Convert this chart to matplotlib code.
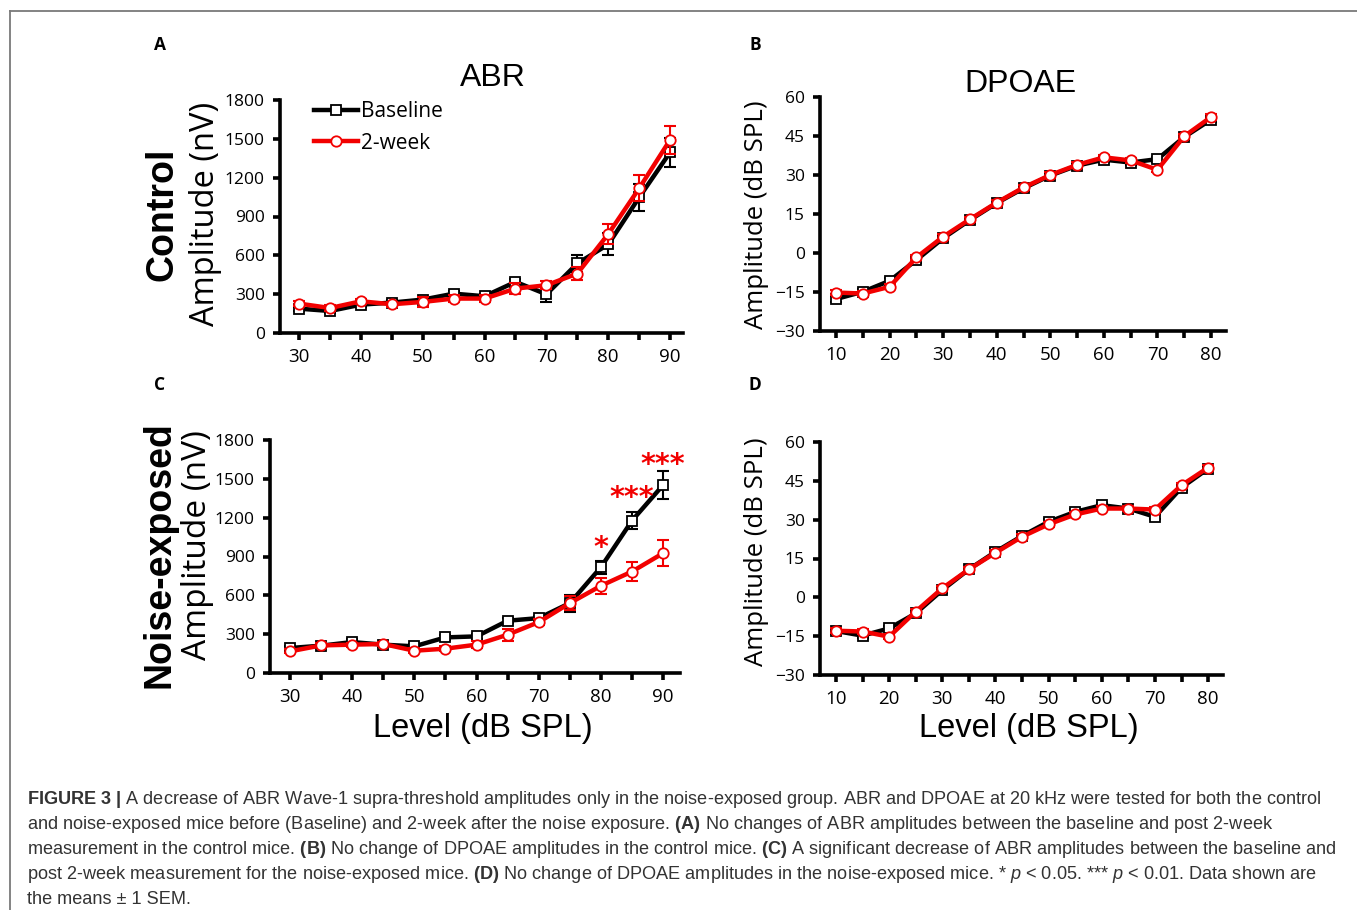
import numpy as np
import matplotlib.pyplot as plt
from matplotlib.lines import Line2D

plt.rcParams['mathtext.fontset'] = 'custom'
plt.rcParams['mathtext.rm'] = 'Liberation Sans'
plt.rcParams['mathtext.it'] = 'Liberation Sans:italic'
plt.rcParams['mathtext.bf'] = 'Liberation Sans:bold'

# ---- data ----
abr_levels = [30, 35, 40, 45, 50, 55, 60, 65, 70, 75, 80, 85, 90]
dp_levels = [10, 15, 20, 25, 30, 35, 40, 45, 50, 55, 60, 65, 70, 75, 80]
abr_ticklabels = ['30', '', '40', '', '50', '', '60', '', '70', '', '80', '', '90']
dp_ticklabels = ['10', '', '20', '', '30', '', '40', '', '50', '', '60', '', '70', '', '80']
abr_yticks = [0, 300, 600, 900, 1200, 1500, 1800]
dp_yticks = [-30, -15, 0, 15, 30, 45, 60]

# A: control ABR (nV)
ctrl_abr_base = [188, 170, 219, 235, 258, 304, 284, 395, 299, 537, 684, 1047, 1395]
ctrl_abr_base_err = [15, 15, 20, 20, 20, 20, 20, 25, 60, 65, 85, 105, 115]
ctrl_abr_2wk = [227, 193, 245, 222, 240, 266, 266, 343, 369, 459, 764, 1117, 1491]
ctrl_abr_2wk_err = [20, 20, 20, 20, 40, 25, 25, 45, 30, 50, 75, 100, 105]

# B: control DPOAE (dB SPL)
ctrl_dp_base = [-17.7, -14.9, -10.7, -2.7, 5.7, 12.7, 19.2, 24.9, 29.8, 33.6, 35.9, 34.8, 36.1, 44.6, 51.3]
ctrl_dp_2wk = [-15.2, -15.6, -13.0, -1.7, 6.3, 13.0, 19.4, 25.2, 30.0, 33.9, 36.8, 35.6, 32.0, 44.9, 52.3]
ctrl_dp_err = [1.0] * 15

# C: noise-exposed ABR (nV)
nz_abr_base = [193, 211, 239, 219, 206, 275, 283, 404, 424, 540, 818, 1178, 1453]
nz_abr_base_err = [15, 15, 20, 15, 20, 20, 20, 20, 20, 65, 50, 62, 110]
nz_abr_2wk = [167, 213, 219, 224, 172, 188, 219, 296, 393, 540, 674, 784, 926]
nz_abr_2wk_err = [15, 15, 15, 15, 20, 20, 25, 45, 25, 55, 60, 77, 103]

# D: noise-exposed DPOAE (dB SPL)
nz_dp_base = [-13.0, -14.8, -12.0, -6.2, 2.8, 10.8, 17.6, 23.7, 29.2, 33.0, 35.6, 34.3, 31.1, 42.4, 49.7]
nz_dp_2wk = [-12.9, -13.2, -15.2, -5.5, 3.5, 10.8, 17.2, 23.4, 28.2, 32.0, 34.3, 34.3, 33.9, 43.3, 50.1]
nz_dp_err = [1.0] * 15

# significance marks in C
star_x = [80, 85, 90]
star_y = [965, 1355, 1610]
star_txt = ['*', '***', '***']

caption = [
    r"$\mathbf{FIGURE\ 3\ |}$ A decrease of ABR Wave-1 supra-threshold amplitudes only in the noise-exposed group. ABR and DPOAE at 20 kHz were tested for both the control",
    r"and noise-exposed mice before (Baseline) and 2-week after the noise exposure. $\mathbf{(A)}$ No changes of ABR amplitudes between the baseline and post 2-week",
    r"measurement in the control mice. $\mathbf{(B)}$ No change of DPOAE amplitudes in the control mice. $\mathbf{(C)}$ A significant decrease of ABR amplitudes between the baseline and",
    r"post 2-week measurement for the noise-exposed mice. $\mathbf{(D)}$ No change of DPOAE amplitudes in the noise-exposed mice. * $\mathit{p}$ < 0.05. *** $\mathit{p}$ < 0.01. Data shown are",
    r"the means ± 1 SEM.",
]

RED = '#f20000'
W, H = 1357, 910
fig = plt.figure(figsize=(W / 100, H / 100), dpi=100)


def px_axes(l, t, r, b):
    return fig.add_axes([l / W, 1 - b / H, (r - l) / W, (b - t) / H])


def ftext(x, y, s, **kw):
    return fig.text(x / W, 1 - y / H, s, **kw)


def panel(ax, x, base, base_err, wk, wk_err, xlim, ylim, yticks, xlabels):
    ax.errorbar(x, base, yerr=base_err, fmt='none', ecolor='black', elinewidth=1.5,
                capsize=4, capthick=1.5, zorder=2)
    ax.plot(x, base, color='black', lw=3.2, marker='s', ms=7.5, mfc='white', mec='black',
            mew=1.3, zorder=3, label='Baseline')
    ax.errorbar(x, wk, yerr=wk_err, fmt='none', ecolor=RED, elinewidth=1.5,
                capsize=4, capthick=1.5, zorder=4)
    ax.plot(x, wk, color=RED, lw=3.2, marker='o', ms=7.5, mfc='white', mec=RED,
            mew=1.3, zorder=5, label='2-week')
    ax.set_xlim(*xlim)
    ax.set_ylim(*ylim)
    ax.set_yticks(yticks)
    ax.set_xticks(x)
    ax.set_xticklabels(xlabels)
    for s in ['top', 'right']:
        ax.spines[s].set_visible(False)
    for s in ['left', 'bottom']:
        ax.spines[s].set_linewidth(2.6)
    ax.tick_params(direction='out', length=5, width=2.6, colors='black')
    ax.tick_params(axis='y', labelsize=12.5, pad=6)
    ax.tick_params(axis='x', labelsize=13.5, pad=6)
    for lab in ax.get_xticklabels() + ax.get_yticklabels():
        lab.set_family('Open Sans')
    ax.patch.set_alpha(0)


axA = px_axes(280, 100, 683, 333)
panel(axA, abr_levels, ctrl_abr_base, ctrl_abr_base_err, ctrl_abr_2wk, ctrl_abr_2wk_err,
      (26.9, 92.1), (0, 1800), abr_yticks, abr_ticklabels)
axB = px_axes(820, 97, 1226, 331)
panel(axB, dp_levels, ctrl_dp_base, ctrl_dp_err, ctrl_dp_2wk, ctrl_dp_err,
      (7.0, 82.8), (-30, 60), dp_yticks, dp_ticklabels)
axC = px_axes(270, 440, 680, 673)
panel(axC, abr_levels, nz_abr_base, nz_abr_base_err, nz_abr_2wk, nz_abr_2wk_err,
      (26.8, 92.7), (0, 1800), abr_yticks, abr_ticklabels)
axD = px_axes(820, 442, 1223, 675)
panel(axD, dp_levels, nz_dp_base, nz_dp_err, nz_dp_2wk, nz_dp_err,
      (7.0, 82.8), (-30, 60), dp_yticks, dp_ticklabels)

for sx, sy, st in zip(star_x, star_y, star_txt):
    axC.text(sx, sy, st, color=RED, fontsize=20.5, fontweight='bold', ha='center',
             va='center', family='DejaVu Sans')

leg = axA.legend(loc='upper left', bbox_to_anchor=(306 / W, 1 - 93 / H),
                 bbox_transform=fig.transFigure, frameon=False,
                 prop={'family': 'Open Sans', 'size': 15}, handlelength=2.1,
                 handletextpad=0.15, labelspacing=0.5, borderaxespad=0)

# titles and labels
ftext(493, 78, 'ABR', fontsize=23, family='Liberation Sans', ha='center', va='center')
ftext(1020, 84, 'DPOAE', fontsize=23, family='Liberation Sans', ha='center', va='center')
ftext(205, 214, 'Amplitude (nV)', fontsize=23.5, family='Open Sans', rotation=90,
      ha='center', va='center')
ftext(197, 545, 'Amplitude (nV)', fontsize=24, family='Open Sans', rotation=90,
      ha='center', va='center')
ftext(757, 215, 'Amplitude (dB SPL)', fontsize=18.5, family='Open Sans', rotation=90,
      ha='center', va='center')
ftext(757, 552, 'Amplitude (dB SPL)', fontsize=18.5, family='Open Sans', rotation=90,
      ha='center', va='center')
ftext(163, 214, 'Control', fontsize=27, fontweight='bold', family='Liberation Sans',
      rotation=90, ha='center', va='center')
ftext(160, 555, 'Noise-exposed', fontsize=27, fontweight='bold', family='Liberation Sans',
      rotation=90, ha='center', va='center')
ftext(483, 728, 'Level (dB SPL)', fontsize=23.5, family='Liberation Sans', ha='center', va='center')
ftext(1029, 728, 'Level (dB SPL)', fontsize=23.5, family='Liberation Sans', ha='center', va='center')

for lx, ly, lt in [(160, 45, 'A'), (755, 45, 'B'), (160, 385, 'C'), (755, 385, 'D')]:
    ftext(lx, ly, lt, fontsize=12.5, fontweight='bold', family='Open Sans', ha='center', va='center')

# caption
for i, line in enumerate(caption):
    ftext(27, 800 + 24.8 * i, line, fontsize=13.1, family='Liberation Sans', color='#333333',
          ha='left', va='center')

# frame lines
fig.add_artist(Line2D([10 / W, 1], [1 - 11 / H, 1 - 11 / H], color='#7a7a7a', lw=1.3))
fig.add_artist(Line2D([10 / W, 10 / W], [1 - 11 / H, 0], color='#7a7a7a', lw=1.3))

fig.savefig('out.png', dpi=100)
